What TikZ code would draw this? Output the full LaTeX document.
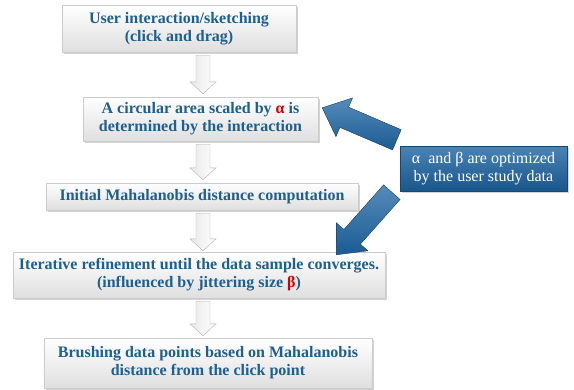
\documentclass[tikz,border=0pt]{standalone}
\usepackage{fontspec}
\setmainfont{Liberation Serif}
\usetikzlibrary{calc, shadows, positioning}
\definecolor{stepblue}{HTML}{1F5F8C}
\definecolor{greekred}{HTML}{D00000}
\definecolor{noteblue}{HTML}{1D65A3}
\tikzset{
    stage/.style = {rectangle, draw=gray!40, top color=white, bottom color=gray!25, drop shadow={shadow xshift=1.5pt, shadow yshift=-1.5pt, opacity=0.35}, align=center, text=stepblue, font=\fontsize{16}{18}\selectfont\bfseries, inner sep=2pt},
    note/.style = {rectangle, draw=noteblue!70!black, top color=noteblue!80!white, bottom color=noteblue!85!black, drop shadow={shadow xshift=1.5pt, shadow yshift=-1.5pt, opacity=0.35}, align=center, text=white, font=\fontsize{16}{18}\selectfont, inner sep=2pt},
    block/.style n args={3}{to path={
        ($(\tikztostart)!#1!90:(\tikztotarget)$)
        -- ($(\tikztotarget)!#3!(\tikztostart)!#1!-90:(\tikztostart)$)
        -- ($(\tikztotarget)!#3!(\tikztostart)!#2!-90:(\tikztostart)$)
        -- (\tikztotarget)
        -- ($(\tikztotarget)!#3!(\tikztostart)!#2!90:(\tikztostart)$)
        -- ($(\tikztotarget)!#3!(\tikztostart)!#1!90:(\tikztostart)$)
        -- ($(\tikztostart)!#1!-90:(\tikztotarget)$)
        -- cycle}},
    hollow/.style = {block={7pt}{13pt}{12pt}, draw=gray!60, left color=gray!18, right color=white},
    bluearrow/.style = {block={11pt}{21pt}{24pt}, draw=noteblue!60!black, top color=noteblue!75!white, bottom color=noteblue!90!black}
}

\begin{document}
\begin{tikzpicture}[x=1pt, y=-1pt]
\useasboundingbox (0,0) rectangle (574,389);

\node (b1) [stage, minimum width=234, minimum height=47] at (179,28.5) {User interaction/sketching \\ (click and drag)};
\node (b2) [stage, minimum width=235, minimum height=44] at (200.5,119) {A circular area scaled by {\color{greekred}α} is \\ determined by the interaction};
\node (b3) [stage, minimum width=312, minimum height=27] at (202,196.5) {Initial Mahalanobis distance computation};
\node (b4) [stage, minimum width=372, minimum height=46] at (199,275) {Iterative refinement until the data sample converges. \\ (influenced by jittering size {\color{greekred}β})};
\node (b5) [stage, minimum width=328, minimum height=50] at (208,363) {Brushing data points based on Mahalanobis \\ distance from the click point};
\node (info) [note, minimum width=167, minimum height=45] at (483.5,168.5) {α~ and β are optimized \\ by the user study data};

% down arrows between the stages
\coordinate (ax) at (203,0);
\draw [hollow] ($(b1.south -| ax)+(0,3)$) to ($(b2.north -| ax)+(0,-3)$);
\draw [hollow] ($(b2.south -| ax)+(0,3)$) to ($(b3.north -| ax)+(0,-3)$);
\draw [hollow] ($(b3.south -| ax)+(0,3)$) to ($(b4.north -| ax)+(0,-1)$);
\draw [hollow] ($(b4.south -| ax)+(0,3)$) to ($(b5.north -| ax)+(0,-2)$);

% parameter arrows
\coordinate (tail1) at ($(info.north west)+(-3,-6)$);
\coordinate (tip1) at ($(b2.north east)+(4,11)$);
\coordinate (tail2) at ($(info.south west)+(-8,1)$);
\coordinate (tip2) at ($(b4.north east)+(-49,3)$);
\draw [bluearrow] (tail1) to (tip1);
\draw [bluearrow] (tail2) to (tip2);
\end{tikzpicture}
\end{document}
